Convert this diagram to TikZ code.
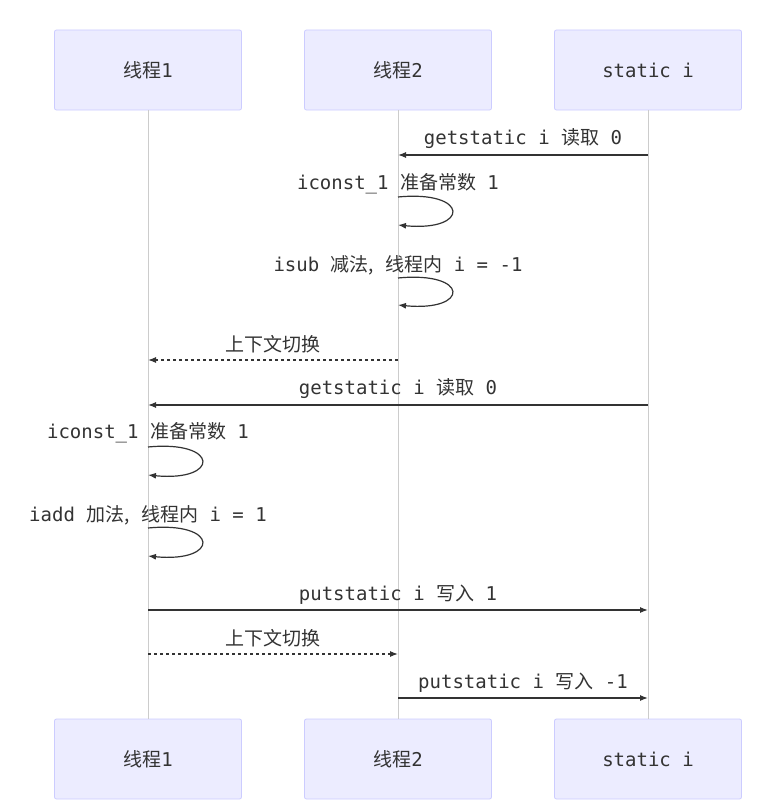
\documentclass[tikz,border=0pt]{standalone}
\usepackage{fontspec}
\setmainfont{DejaVu Sans Mono}
\newfontfamily\cjk{Noto Sans CJK SC}
\usetikzlibrary{arrows.meta}
\definecolor{boxfill}{HTML}{ECECFF}
\definecolor{boxdraw}{HTML}{CCCCFF}
\definecolor{txt}{HTML}{333333}
\begin{document}
\begin{tikzpicture}[x=1pt,y=-1pt,
  actor/.style={draw=boxdraw,fill=boxfill,rounded corners=2pt,minimum width=187pt,minimum height=80pt,font=\fontsize{19}{21}\selectfont,text=txt,line width=0.8pt},
  life/.style={draw=black!20,line width=1pt},
  msg/.style={draw=txt,line width=1.2pt,-{Latex[length=8pt,width=6pt]}},
  dmsg/.style={msg,dashed},
  lbl/.style={font=\fontsize{19}{21}\selectfont,text=txt,inner sep=0pt}]
\useasboundingbox (0,0) rectangle (769,808);
\foreach \n/\x/\t in {a/148/{\cjk 线程}1,b/398/{\cjk 线程}2,c/648/static i}{
  \node[actor] (\n top) at (\x,70) {\t};
  \node[actor] (\n bot) at (\x,759) {\t};
  \draw[life] (\n top.south) -- (\n bot.north);
}
\coordinate (c1) at (648,155); \coordinate (b1) at (398,155);
\draw[msg] (c1) -- (b1);
\node[lbl] at (523,139) {getstatic i {\cjk 读取} 0};
\coordinate (b2) at (398,197); \coordinate (b2e) at (398,225);
\draw[msg] (b2) .. controls (470,190) and (470,232) .. (b2e);
\node[lbl] at (398,184) {iconst\_1 {\cjk 准备常数} 1};
\coordinate (b3) at (398,278); \coordinate (b3e) at (398,305);
\draw[msg] (b3) .. controls (470,271) and (470,312) .. (b3e);
\node[lbl] at (398,265) {isub {\cjk 减法,} {\cjk 线程内} i = -1};
\coordinate (b4) at (398,360); \coordinate (a4) at (148,360);
\draw[dmsg] (b4) -- (a4);
\node[lbl] at (273,344) {\cjk 上下文切换};
\coordinate (c5) at (648,405); \coordinate (a5) at (148,405);
\draw[msg] (c5) -- (a5);
\node[lbl] at (398,389) {getstatic i {\cjk 读取} 0};
\coordinate (a6) at (148,447); \coordinate (a6e) at (148,475);
\draw[msg] (a6) .. controls (220,440) and (220,482) .. (a6e);
\node[lbl] at (148,433) {iconst\_1 {\cjk 准备常数} 1};
\coordinate (a7) at (148,528); \coordinate (a7e) at (148,556);
\draw[msg] (a7) .. controls (220,521) and (220,563) .. (a7e);
\node[lbl] at (148,515) {iadd {\cjk 加法,} {\cjk 线程内} i = 1};
\coordinate (a8) at (148,610); \coordinate (c8) at (648,610);
\draw[msg] (a8) -- (c8);
\node[lbl] at (398,595) {putstatic i {\cjk 写入} 1};
\coordinate (a9) at (148,654); \coordinate (b9) at (398,654);
\draw[dmsg] (a9) -- (b9);
\node[lbl] at (273,638) {\cjk 上下文切换};
\coordinate (b10) at (398,698); \coordinate (c10) at (648,698);
\draw[msg] (b10) -- (c10);
\node[lbl] at (523,683) {putstatic i {\cjk 写入} -1};
\end{tikzpicture}
\end{document}
